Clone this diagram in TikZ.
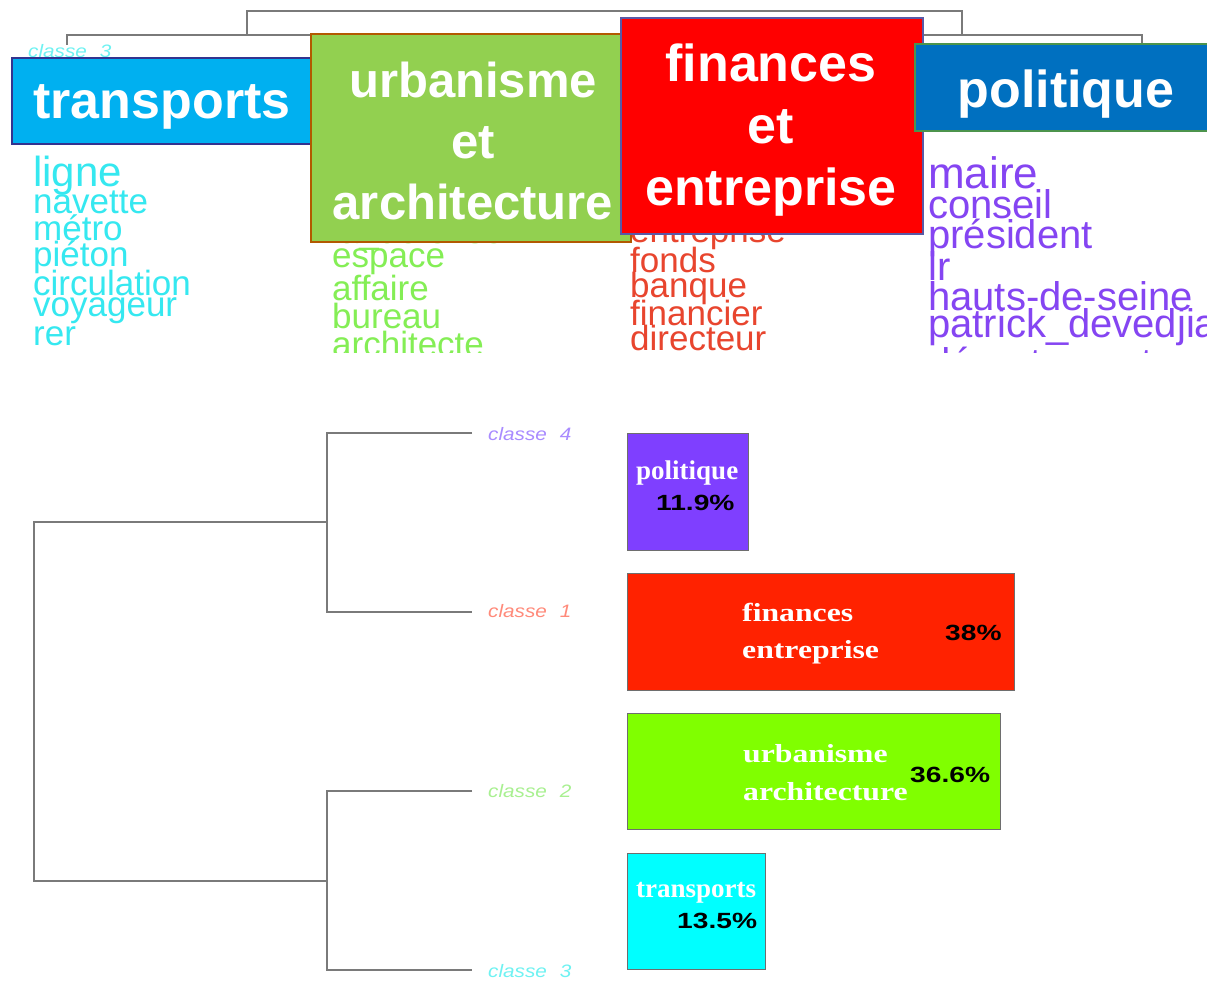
\documentclass[tikz,border=0pt]{standalone}
\usepackage{fontspec}
\setmainfont{Liberation Sans}
\newfontfamily\barserif{Liberation Serif}
\newfontfamily\barwide[FakeStretch=1.22]{Liberation Serif}
\newfontfamily\pctfont[FakeStretch=1.28]{Liberation Sans}
\newfontfamily\classfont[FakeStretch=1.15]{Liberation Sans}
\definecolor{dendrogray}{HTML}{7A7A7A}
\definecolor{bargray}{HTML}{6E6E6E}
\definecolor{word-cyan}{HTML}{35E8F0}
\definecolor{word-green}{HTML}{84EE55}
\definecolor{word-red}{HTML}{E8452E}
\definecolor{word-purple}{HTML}{8545F2}
\definecolor{ban-transports}{HTML}{00B0F0}
\definecolor{ban-urbanisme}{HTML}{92D050}
\definecolor{ban-finances}{HTML}{FF0000}
\definecolor{ban-politique}{HTML}{0070C0}
\definecolor{bar-politique}{HTML}{7F3FFF}
\definecolor{bar-finances}{HTML}{FF2200}
\definecolor{bar-urbanisme}{HTML}{80FF00}
\definecolor{bar-transports}{HTML}{00FFFF}
\definecolor{cl-4}{HTML}{A98BFF}
\definecolor{cl-1}{HTML}{FF8A7A}
\definecolor{cl-2}{HTML}{A8F090}
\definecolor{cl-3}{HTML}{6EF2F2}
\tikzset{
  dendro/.style={draw=dendrogray, line width=2pt},
  word/.style={anchor=base west, inner sep=0pt},
  banner/.style={line width=2pt, anchor=north west, inner sep=0pt},
  bannertext/.style={anchor=base, inner sep=0pt, align=center, text=white,
    font=\bfseries\fontsize{52}{62}\selectfont},
  classlabel/.style={anchor=base west, inner sep=0pt,
    font=\classfont\itshape\fontsize{18}{18}\selectfont},
  bar/.style={draw=bargray, line width=1pt, anchor=north west, inner sep=0pt},
  bartext/.style={anchor=base west, inner sep=0pt, text=white,
    font=\barwide\bfseries\fontsize{26}{26}\selectfont},
  smallbartext/.style={bartext, font=\barserif\bfseries\fontsize{27}{27}\selectfont},
  pct/.style={anchor=base west, inner sep=0pt, font=\pctfont\bfseries\fontsize{22}{22}\selectfont}
}

\begin{document}
\begin{tikzpicture}[x=1pt, y=-1pt]
    \clip (0,0) rectangle (1207,982);
    \fill[white] (0,0) rectangle (1207,982);

    % top: cut of the first dendrogram
    \coordinate (tLeaf3) at (67,45);
    \coordinate (tLeaf2) at (427,45);
    \coordinate (tLeaf1) at (782,45);
    \coordinate (tLeaf4) at (1142,45);
    \coordinate (tJoinA) at (247,35);
    \coordinate (tJoinB) at (962,35);
    \draw[dendro] (tJoinA) -- ++(0,-24) -| (tJoinB);
    \draw[dendro] (tLeaf3) -- ++(0,-10) -| (tLeaf2);
    \draw[dendro] (tLeaf1) -- ++(0,-10) -| (tLeaf4);
    \node[classlabel, text=cl-3] (tCls3) at (28,58) {classe\hspace{13pt}3};

    % word lists
    \begin{scope}
      \clip (0,0) rectangle (1207,352);
      \node[word, text=word-cyan, font=\fontsize{42}{42}\selectfont] (wLigne) at (33,186) {ligne};
      \foreach \w/\y in {navette/213, métro/240, piéton/266, circulation/295, voyageur/316, rer/345}
        \node[word, text=word-cyan, font=\fontsize{35}{35}\selectfont] (cyan-\y) at (33,\y) {\w};
      \foreach \w/\y in {la\_défense/243, espace/267, affaire/300, bureau/328, architecte/356}
        \node[word, text=word-green, font=\fontsize{35}{35}\selectfont] (green-\y) at (332,\y) {\w};
      \foreach \w/\y in {entreprise/242, fonds/272, banque/297, financier/325, directeur/350}
        \node[word, text=word-red, font=\fontsize{35}{35}\selectfont] (red-\y) at (630,\y) {\w};
      \node[word, text=word-purple, font=\fontsize{44}{44}\selectfont] (wMaire) at (928,188) {maire};
      \foreach \w/\y in {conseil/218, président/248, lr/280, hauts-de-seine/310, patrick\_devedjian/337, département/376}
        \node[word, text=word-purple, font=\fontsize{40}{40}\selectfont] (purple-\y) at (928,\y) {\w};
    \end{scope}

    % banners
    \node[banner, fill=ban-transports, draw=blue!45!black!80, minimum width=307pt, minimum height=86pt] (bnTransports) at (11,57) {};
    \node[bannertext] (txTransports) at (162,118) {transports};
    \node[banner, fill=ban-urbanisme, draw=orange!70!black, minimum width=320pt, minimum height=208pt] (bnUrbanisme) at (310,33) {};
    \node[bannertext, font=\bfseries\fontsize{49}{61}\selectfont] (txUrbanisme) at (473,219) {urbanisme\\et\\architecture};
    \node[banner, fill=ban-finances, draw=blue!30!gray, minimum width=302pt, minimum height=216pt] (bnFinances) at (620,17) {};
    \node[bannertext] (txFinances) at (771,205) {finances\\et\\entreprise};
    \node[banner, fill=ban-politique, draw=green!40!black!70, minimum width=304pt, minimum height=87pt] (bnPolitique) at (914,43) {};
    \node[bannertext] (txPolitique) at (1066,107) {politique};

    % bottom dendrogram
    \coordinate (leaf4) at (472,433);
    \coordinate (leaf1) at (472,612);
    \coordinate (leaf2) at (472,791);
    \coordinate (leaf3) at (472,970);
    \coordinate (join41) at (327,522);
    \coordinate (join23) at (327,881);
    \coordinate (root) at (34,700);
    \draw[dendro] (leaf4) -| (join41) |- (leaf1);
    \draw[dendro] (leaf2) -| (join23) |- (leaf3);
    \draw[dendro] (join41) -| (root) |- (join23);
    \node[classlabel, text=cl-4] (cls4) at (488,440) {classe\hspace{13pt}4};
    \node[classlabel, text=cl-1] (cls1) at (488,617) {classe\hspace{13pt}1};
    \node[classlabel, text=cl-2] (cls2) at (488,797) {classe\hspace{13pt}2};
    \node[classlabel, text=cl-3] (cls3) at (488,977) {classe\hspace{13pt}3};

    % bars
    \node[bar, fill=bar-politique, minimum width=121pt, minimum height=117pt] (barPolitique) at (627,433) {};
    \node[smallbartext] (lbPolitique) at (636,479) {politique};
    \node[pct] (pcPolitique) at (656,510) {11.9\%};
    \node[bar, fill=bar-finances, minimum width=387pt, minimum height=117pt] (barFinances) at (627,573) {};
    \node[bartext] (lbFinances) at (742,621) {finances};
    \node[bartext] (lbEntreprise) at (742,658) {entreprise};
    \node[pct] (pcFinances) at (945,640) {38\%};
    \node[bar, fill=bar-urbanisme, minimum width=373pt, minimum height=116pt] (barUrbanisme) at (627,713) {};
    \node[bartext] (lbUrbanisme) at (743,762) {urbanisme};
    \node[bartext] (lbArchitecture) at (743,800) {architecture};
    \node[pct] (pcUrbanisme) at (910,782) {36.6\%};
    \node[bar, fill=bar-transports, minimum width=138pt, minimum height=116pt] (barTransports) at (627,853) {};
    \node[smallbartext] (lbTransports) at (636,897) {transports};
    \node[pct] (pcTransports) at (677,928) {13.5\%};
\end{tikzpicture}
\end{document}
